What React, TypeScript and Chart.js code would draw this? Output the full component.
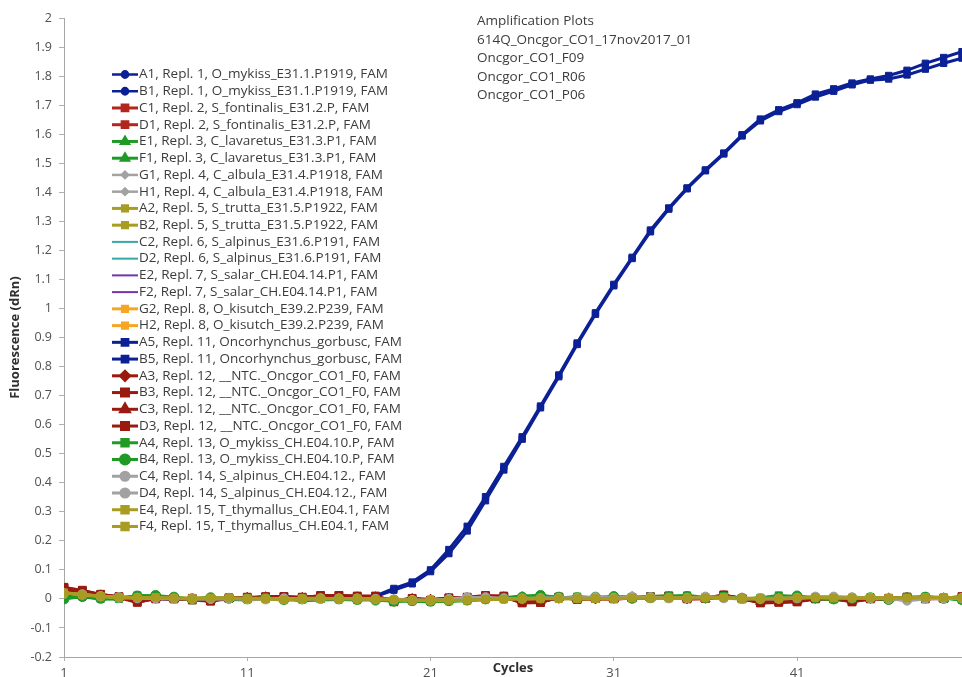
import React, { useEffect, useRef } from 'react';
import { Chart, registerables } from 'chart.js';
import { drawPoint } from 'chart.js/helpers';

Chart.register(...registerables);

// Cycle numbers on the x axis and the labelled ticks
const CYCLES = [
  1, 2, 3, 4, 5, 6, 7, 8, 9, 10, 11, 12, 13, 14, 15, 16, 17, 18, 19, 20, 21, 22, 23, 24, 25,
  26, 27, 28, 29, 30, 31, 32, 33, 34, 35, 36, 37, 38, 39, 40, 41, 42, 43, 44, 45, 46, 47, 48, 49, 50,
];
const X_TICKS = [1, 11, 21, 31, 41];
const Y_MIN = -0.2;
const Y_MAX = 2;
const Y_STEP = 0.1;

const HEADER_LINES = [
  'Amplification Plots',
  '614Q_Oncgor_CO1_17nov2017_01',
  'Oncgor_CO1_F09',
  'Oncgor_CO1_R06',
  'Oncgor_CO1_P06',
];

// dRn per cycle, one array per well
const WELL_A1 = [0.018, 0.014, 0.01, 0.006, 0.004, 0.003, 0.002, 0.001, 0.0, 0.0, 0.001, 0.0, -0.001, 0.0, 0.001, 0.002, 0.002, 0.001, 0.0, -0.002, -0.003, -0.002, 0.0, 0.001, 0.0, -0.001, 0.0, 0.002, 0.004, 0.003, 0.002, 0.004, 0.006, 0.005, 0.004, 0.003, 0.002, 0.001, 0.0, 0.0, 0.001, 0.002, 0.004, 0.006, 0.005, 0.004, 0.003, 0.003, 0.004, 0.005];
const WELL_B1 = [0.016, 0.012, 0.008, 0.005, 0.003, 0.002, 0.002, 0.0, 0.001, 0.0, 0.0, -0.001, 0.0, 0.001, 0.002, 0.001, 0.0, 0.0, -0.002, -0.003, -0.002, -0.001, 0.001, 0.0, 0.002, 0.0, 0.001, 0.003, 0.002, 0.004, 0.003, 0.005, 0.004, 0.004, 0.003, 0.004, 0.001, 0.002, 0.001, 0.0, 0.002, 0.003, 0.003, 0.005, 0.004, 0.003, 0.004, 0.002, 0.003, 0.004];
const WELL_C1 = [0.036, 0.026, 0.014, 0.004, -0.012, 0.002, -0.002, 0.003, -0.006, 0.0, 0.004, 0.007, 0.006, 0.003, 0.01, 0.01, 0.009, 0.008, -0.006, 0.002, -0.002, 0.002, 0.004, 0.01, 0.008, -0.012, -0.011, 0.004, 0.0, 0.0, 0.0, 0.003, 0.006, 0.008, 0.002, 0.0, 0.012, 0.002, -0.012, -0.01, -0.008, 0.002, 0.0, -0.008, 0.0, 0.0, 0.004, 0.002, 0.0, 0.006];
const WELL_D1 = [0.03, 0.024, 0.012, 0.006, -0.008, 0.004, 0.0, 0.0, -0.004, 0.002, 0.006, 0.005, 0.004, 0.006, 0.008, 0.01, 0.006, 0.004, -0.004, 0.0, -0.004, 0.0, 0.002, 0.008, 0.01, -0.01, -0.008, 0.006, 0.002, 0.0, 0.002, 0.001, 0.003, 0.004, 0.0, 0.002, 0.01, 0.0, -0.01, -0.012, -0.006, 0.0, 0.002, -0.006, 0.002, -0.002, 0.002, 0.004, 0.002, 0.004];
const WELL_E1 = [0.005, 0.008, 0.0, 0.002, 0.008, 0.006, 0.0, 0.002, 0.004, -0.002, -0.004, 0.0, 0.0, -0.006, -0.004, -0.002, 0.0, 0.002, 0.0, -0.006, -0.01, -0.008, -0.004, 0.0, 0.004, 0.01, 0.012, 0.004, 0.0, 0.002, 0.006, 0.01, 0.004, 0.008, 0.008, 0.002, 0.006, 0.002, 0.0, 0.008, 0.002, 0.0, -0.002, 0.0, 0.004, -0.004, 0.0, 0.006, 0.004, -0.004];
const WELL_F1 = [0.008, 0.006, 0.002, 0.0, 0.006, 0.008, 0.002, 0.0, 0.002, 0.0, -0.002, -0.002, 0.002, -0.004, -0.002, 0.0, 0.002, 0.0, -0.002, -0.004, -0.008, -0.006, -0.002, 0.002, 0.002, 0.008, 0.01, 0.006, 0.002, 0.0, 0.004, 0.008, 0.006, 0.006, 0.01, 0.004, 0.004, 0.0, 0.002, 0.006, 0.004, 0.002, 0.0, 0.002, 0.002, -0.002, 0.002, 0.004, 0.006, -0.002];
const WELL_G1 = [0.022, 0.016, 0.01, 0.006, 0.004, 0.004, 0.002, 0.0, 0.002, 0.0, -0.002, 0.0, 0.0, -0.002, 0.002, 0.004, 0.002, 0.0, -0.004, -0.006, -0.004, 0.0, 0.006, 0.002, 0.0, 0.002, 0.002, 0.004, 0.004, 0.006, 0.004, 0.008, 0.006, 0.004, 0.004, 0.008, 0.002, 0.0, -0.002, 0.0, 0.004, 0.006, 0.008, 0.004, 0.002, 0.0, -0.006, 0.002, 0.0, 0.004];
const WELL_H1 = [0.02, 0.014, 0.008, 0.004, 0.002, 0.002, 0.0, 0.002, 0.0, 0.002, 0.0, -0.002, 0.002, 0.0, 0.0, 0.002, 0.004, 0.002, -0.002, -0.004, -0.006, -0.002, 0.004, 0.004, 0.002, 0.0, 0.004, 0.002, 0.006, 0.004, 0.006, 0.006, 0.004, 0.006, 0.002, 0.006, 0.004, 0.002, 0.0, 0.002, 0.002, 0.008, 0.006, 0.006, 0.004, 0.002, -0.004, 0.0, 0.002, 0.002];
const WELL_A2 = [0.024, 0.016, 0.01, 0.008, 0.002, 0.004, 0.004, 0.0, 0.002, 0.002, 0.0, 0.004, -0.002, 0.002, 0.0, 0.0, 0.002, -0.002, -0.002, -0.004, -0.006, -0.004, -0.002, 0.0, 0.002, 0.0, 0.002, 0.0, 0.002, 0.002, 0.0, 0.004, 0.004, 0.002, 0.006, 0.004, 0.004, 0.002, 0.0, 0.004, 0.002, 0.004, 0.006, 0.004, 0.004, 0.002, 0.002, 0.004, 0.006, 0.002];
const WELL_B2 = [0.02, 0.018, 0.008, 0.006, 0.004, 0.002, 0.002, 0.002, 0.0, 0.004, 0.002, 0.0, 0.0, 0.0, 0.002, 0.002, 0.0, 0.0, -0.004, -0.002, -0.004, -0.006, -0.004, -0.002, 0.0, 0.002, 0.0, 0.002, 0.0, 0.004, 0.002, 0.002, 0.004, 0.004, 0.004, 0.002, 0.006, 0.0, 0.002, 0.002, 0.004, 0.002, 0.004, 0.006, 0.002, 0.004, 0.004, 0.002, 0.004, 0.004];
const WELL_C2 = [0.014, 0.01, 0.008, 0.004, 0.002, 0.002, 0.0, 0.0, 0.002, 0.0, 0.0, 0.002, 0.0, -0.002, 0.0, 0.002, 0.0, 0.0, -0.002, -0.004, -0.004, -0.002, 0.0, 0.002, 0.0, 0.002, 0.004, 0.002, 0.004, 0.002, 0.004, 0.004, 0.006, 0.004, 0.004, 0.002, 0.004, 0.002, 0.0, 0.002, 0.004, 0.004, 0.002, 0.004, 0.004, 0.002, 0.002, 0.004, 0.002, 0.002];
const WELL_D2 = [0.012, 0.012, 0.006, 0.004, 0.004, 0.0, 0.002, 0.0, 0.0, 0.002, 0.0, 0.0, 0.002, 0.0, 0.0, 0.0, 0.002, -0.002, -0.002, -0.002, -0.004, -0.004, -0.002, 0.0, 0.002, 0.002, 0.002, 0.004, 0.002, 0.004, 0.002, 0.006, 0.004, 0.002, 0.006, 0.004, 0.002, 0.0, 0.002, 0.002, 0.002, 0.004, 0.004, 0.002, 0.002, 0.004, 0.004, 0.002, 0.004, 0.004];
const WELL_E2 = [0.016, 0.012, 0.006, 0.006, 0.002, 0.002, 0.002, 0.0, 0.0, 0.0, 0.002, 0.0, 0.0, 0.0, 0.002, 0.0, 0.0, 0.0, -0.004, -0.002, -0.004, -0.002, -0.002, 0.0, 0.002, 0.002, 0.002, 0.002, 0.004, 0.004, 0.002, 0.004, 0.004, 0.004, 0.004, 0.004, 0.002, 0.002, 0.002, 0.0, 0.004, 0.004, 0.004, 0.004, 0.002, 0.002, 0.002, 0.004, 0.004, 0.004];
const WELL_F2 = [0.014, 0.01, 0.008, 0.004, 0.004, 0.002, 0.0, 0.002, 0.0, 0.0, 0.0, 0.002, 0.0, 0.0, 0.0, 0.002, 0.0, -0.002, -0.002, -0.004, -0.002, -0.004, 0.0, 0.0, 0.0, 0.002, 0.004, 0.002, 0.002, 0.004, 0.004, 0.002, 0.004, 0.006, 0.002, 0.004, 0.004, 0.002, 0.0, 0.002, 0.002, 0.004, 0.002, 0.004, 0.004, 0.002, 0.004, 0.002, 0.004, 0.002];
const WELL_G2 = [0.018, 0.014, 0.01, 0.004, 0.004, 0.002, 0.002, 0.002, 0.0, 0.002, 0.0, 0.0, 0.002, -0.002, 0.002, 0.0, 0.002, 0.0, -0.002, -0.004, -0.006, -0.004, -0.002, 0.002, 0.0, 0.002, 0.002, 0.0, 0.004, 0.002, 0.004, 0.006, 0.004, 0.002, 0.004, 0.006, 0.002, 0.002, 0.0, 0.002, 0.004, 0.002, 0.004, 0.006, 0.004, 0.002, 0.004, 0.002, 0.004, 0.006];
const WELL_H2 = [0.016, 0.014, 0.008, 0.006, 0.002, 0.004, 0.0, 0.002, 0.002, 0.0, 0.002, 0.0, 0.0, 0.0, 0.0, 0.002, 0.0, 0.002, -0.002, -0.002, -0.004, -0.006, -0.002, 0.0, 0.002, 0.0, 0.004, 0.002, 0.002, 0.004, 0.002, 0.004, 0.006, 0.004, 0.002, 0.004, 0.004, 0.0, 0.002, 0.0, 0.002, 0.004, 0.006, 0.004, 0.002, 0.004, 0.002, 0.004, 0.004, 0.004];
const WELL_A5 = [0.01, 0.008, 0.005, 0.003, 0.002, 0.001, 0.0, 0.0, -0.001, 0.0, 0.0, -0.002, -0.001, 0.0, 0.0, 0.002, 0.004, 0.01, 0.036, 0.058, 0.1, 0.17, 0.25, 0.352, 0.456, 0.558, 0.664, 0.771, 0.881, 0.985, 1.083, 1.176, 1.27, 1.346, 1.415, 1.477, 1.535, 1.598, 1.652, 1.684, 1.708, 1.738, 1.756, 1.776, 1.79, 1.802, 1.82, 1.844, 1.864, 1.884];
const WELL_B5 = [0.008, 0.006, 0.004, 0.002, 0.002, 0.0, 0.001, -0.001, 0.0, -0.001, 0.0, -0.001, 0.0, 0.001, 0.0, 0.001, 0.003, 0.008, 0.03, 0.052, 0.094, 0.156, 0.234, 0.338, 0.444, 0.55, 0.658, 0.765, 0.876, 0.98, 1.078, 1.172, 1.264, 1.342, 1.412, 1.474, 1.532, 1.594, 1.646, 1.678, 1.702, 1.728, 1.748, 1.77, 1.786, 1.79, 1.804, 1.824, 1.844, 1.862];
const WELL_A3 = [0.03, 0.022, 0.014, 0.006, 0.0, 0.002, 0.0, 0.002, -0.002, 0.002, 0.004, 0.006, 0.004, 0.002, 0.006, 0.008, 0.006, 0.004, -0.004, -0.002, -0.004, 0.0, 0.002, 0.006, 0.004, -0.006, -0.006, 0.002, 0.002, 0.0, 0.002, 0.004, 0.004, 0.006, 0.0, 0.002, 0.008, 0.0, -0.008, -0.006, -0.004, 0.002, 0.002, -0.004, 0.002, 0.0, 0.004, 0.002, 0.002, 0.004];
const WELL_B3 = [0.04, 0.028, 0.016, 0.006, -0.01, 0.0, 0.002, -0.004, -0.008, 0.004, 0.002, 0.008, 0.008, 0.004, 0.012, 0.012, 0.01, 0.008, -0.01, -0.002, -0.004, 0.004, 0.006, 0.012, 0.006, -0.014, -0.012, 0.006, -0.002, 0.002, 0.0, 0.004, 0.008, 0.01, 0.0, 0.002, 0.014, 0.0, -0.014, -0.012, -0.01, 0.0, 0.002, -0.01, 0.0, 0.002, 0.006, 0.0, 0.002, 0.008];
const WELL_C3 = [0.032, 0.024, 0.012, 0.004, -0.004, 0.002, 0.0, 0.0, -0.004, 0.0, 0.004, 0.006, 0.004, 0.004, 0.008, 0.008, 0.006, 0.006, -0.006, 0.0, -0.002, 0.0, 0.004, 0.008, 0.006, -0.008, -0.008, 0.004, 0.0, 0.002, 0.0, 0.002, 0.004, 0.006, 0.002, 0.0, 0.01, 0.002, -0.01, -0.008, -0.006, 0.0, 0.002, -0.006, 0.0, 0.002, 0.002, 0.004, 0.0, 0.004];
const WELL_D3 = [0.038, 0.03, 0.014, 0.008, -0.012, 0.004, 0.0, 0.002, -0.006, 0.002, 0.006, 0.006, 0.008, 0.006, 0.01, 0.012, 0.008, 0.01, -0.008, 0.002, -0.006, 0.002, 0.004, 0.01, 0.01, -0.012, -0.012, 0.006, 0.0, 0.002, 0.002, 0.004, 0.006, 0.01, 0.002, 0.002, 0.012, 0.002, -0.012, -0.01, -0.01, 0.002, 0.0, -0.01, 0.002, 0.0, 0.006, 0.004, 0.002, 0.006];
const WELL_A4 = [0.002, 0.01, 0.0, 0.0, 0.012, 0.01, 0.004, -0.002, 0.002, 0.0, -0.002, 0.0, -0.004, -0.002, 0.0, -0.002, -0.004, -0.002, -0.006, -0.008, -0.01, -0.008, -0.006, -0.002, 0.0, 0.004, 0.006, 0.002, 0.008, 0.004, 0.006, 0.004, 0.008, 0.01, 0.012, 0.006, 0.01, 0.0, 0.004, 0.012, 0.008, 0.002, 0.0, 0.004, 0.006, 0.0, 0.006, 0.008, 0.004, -0.004];
const WELL_B4 = [0.0, 0.008, 0.002, 0.004, 0.01, 0.012, 0.006, 0.0, 0.004, 0.002, 0.0, 0.002, -0.002, 0.0, 0.002, 0.0, -0.002, -0.004, -0.008, -0.006, -0.008, -0.006, -0.004, 0.0, 0.002, 0.006, 0.012, 0.006, 0.004, 0.006, 0.008, 0.002, 0.004, 0.006, 0.008, 0.004, 0.006, 0.002, 0.0, 0.006, 0.01, 0.004, 0.0, 0.002, 0.004, -0.002, 0.004, 0.006, 0.002, -0.002];
const WELL_C4 = [0.02, 0.014, 0.01, 0.004, 0.004, 0.002, 0.002, 0.0, 0.0, 0.002, 0.0, 0.0, 0.0, 0.0, 0.002, 0.0, 0.002, 0.0, -0.002, -0.004, -0.004, -0.002, 0.004, 0.006, 0.0, 0.002, 0.002, 0.002, 0.004, 0.004, 0.004, 0.008, 0.004, 0.004, 0.002, 0.008, 0.004, 0.002, 0.0, 0.0, 0.002, 0.006, 0.008, 0.006, 0.004, 0.0, -0.004, 0.002, 0.002, 0.002];
const WELL_D4 = [0.018, 0.016, 0.008, 0.006, 0.002, 0.002, 0.0, 0.002, 0.0, 0.0, 0.0, -0.002, 0.002, 0.0, 0.0, 0.002, 0.0, 0.0, -0.002, -0.004, -0.006, 0.0, 0.006, 0.004, 0.002, 0.0, 0.002, 0.004, 0.002, 0.006, 0.002, 0.006, 0.006, 0.002, 0.004, 0.006, 0.002, 0.0, 0.002, 0.002, 0.004, 0.008, 0.006, 0.004, 0.002, 0.002, -0.006, 0.0, 0.002, 0.004];
const WELL_E4 = [0.02, 0.015, 0.01, 0.006, 0.004, 0.006, 0.002, 0.002, 0.004, 0.004, 0.002, 0.002, -0.004, 0.0, 0.0, 0.002, 0.0, -0.002, -0.004, -0.004, -0.006, -0.006, -0.004, -0.002, 0.0, 0.0, 0.0, 0.002, 0.0, 0.0, 0.002, 0.002, 0.002, 0.004, 0.004, 0.002, 0.006, 0.0, 0.0, 0.002, 0.004, 0.004, 0.004, 0.002, 0.002, 0.004, 0.004, 0.006, 0.004, 0.004];
const WELL_F4 = [0.022, 0.014, 0.008, 0.004, 0.004, 0.004, 0.002, 0.0, 0.002, 0.002, 0.0, 0.0, -0.002, 0.002, 0.002, 0.0, 0.002, 0.0, -0.002, -0.006, -0.004, -0.004, -0.006, 0.0, -0.002, 0.002, 0.002, 0.0, 0.002, 0.002, 0.0, 0.004, 0.002, 0.002, 0.002, 0.004, 0.004, 0.002, 0.002, 0.0, 0.002, 0.006, 0.002, 0.004, 0.004, 0.002, 0.002, 0.004, 0.006, 0.002];

const BLUE = '#0c2096';
const RED = '#b3251d';
const DARK_RED = '#9a1a10';
const GREEN = '#1f9a25';
const GRAY = '#a2a2a2';
const OLIVE = '#a89c22';
const TEAL = '#35a7a6';
const PURPLE = '#7435aa';
const ORANGE = '#f6a623';

type Well = {
  label: string;
  data: number[];
  color: string;
  point: string | false;
  radius: number;
  width: number;
};

const WELLS: Well[] = [
  { label: 'A1, Repl. 1, O_mykiss_E31.1.P1919, FAM', data: WELL_A1, color: BLUE, point: 'circle', radius: 3.5, width: 2.5 },
  { label: 'B1, Repl. 1, O_mykiss_E31.1.P1919, FAM', data: WELL_B1, color: BLUE, point: 'circle', radius: 3.5, width: 2.5 },
  { label: 'C1, Repl. 2, S_fontinalis_E31.2.P, FAM', data: WELL_C1, color: RED, point: 'rect', radius: 4.5, width: 3 },
  { label: 'D1, Repl. 2, S_fontinalis_E31.2.P, FAM', data: WELL_D1, color: RED, point: 'rect', radius: 4.5, width: 3 },
  { label: 'E1, Repl. 3, C_lavaretus_E31.3.P1, FAM', data: WELL_E1, color: GREEN, point: 'triangle', radius: 4.5, width: 3 },
  { label: 'F1, Repl. 3, C_lavaretus_E31.3.P1, FAM', data: WELL_F1, color: GREEN, point: 'triangle', radius: 4.5, width: 3 },
  { label: 'G1, Repl. 4, C_albula_E31.4.P1918, FAM', data: WELL_G1, color: GRAY, point: 'rectRot', radius: 3.5, width: 2.5 },
  { label: 'H1, Repl. 4, C_albula_E31.4.P1918, FAM', data: WELL_H1, color: GRAY, point: 'rectRot', radius: 3.5, width: 2.5 },
  { label: 'A2, Repl. 5, S_trutta_E31.5.P1922, FAM', data: WELL_A2, color: OLIVE, point: 'rect', radius: 4, width: 3 },
  { label: 'B2, Repl. 5, S_trutta_E31.5.P1922, FAM', data: WELL_B2, color: OLIVE, point: 'rect', radius: 4, width: 3 },
  { label: 'C2, Repl. 6, S_alpinus_E31.6.P191, FAM', data: WELL_C2, color: TEAL, point: false, radius: 0, width: 2 },
  { label: 'D2, Repl. 6, S_alpinus_E31.6.P191, FAM', data: WELL_D2, color: TEAL, point: false, radius: 0, width: 2 },
  { label: 'E2, Repl. 7, S_salar_CH.E04.14.P1, FAM', data: WELL_E2, color: PURPLE, point: false, radius: 0, width: 2 },
  { label: 'F2, Repl. 7, S_salar_CH.E04.14.P1, FAM', data: WELL_F2, color: PURPLE, point: false, radius: 0, width: 2 },
  { label: 'G2, Repl. 8, O_kisutch_E39.2.P239, FAM', data: WELL_G2, color: ORANGE, point: 'rect', radius: 4, width: 3 },
  { label: 'H2, Repl. 8, O_kisutch_E39.2.P239, FAM', data: WELL_H2, color: ORANGE, point: 'rect', radius: 4, width: 3 },
  { label: 'A5, Repl. 11, Oncorhynchus_gorbusc, FAM', data: WELL_A5, color: BLUE, point: 'rect', radius: 4.5, width: 3 },
  { label: 'B5, Repl. 11, Oncorhynchus_gorbusc, FAM', data: WELL_B5, color: BLUE, point: 'rect', radius: 4.5, width: 3 },
  { label: 'A3, Repl. 12, __NTC._Oncgor_CO1_F0, FAM', data: WELL_A3, color: DARK_RED, point: 'rectRot', radius: 5, width: 3 },
  { label: 'B3, Repl. 12, __NTC._Oncgor_CO1_F0, FAM', data: WELL_B3, color: DARK_RED, point: 'rect', radius: 5.5, width: 3 },
  { label: 'C3, Repl. 12, __NTC._Oncgor_CO1_F0, FAM', data: WELL_C3, color: DARK_RED, point: 'triangle', radius: 5.5, width: 3 },
  { label: 'D3, Repl. 12, __NTC._Oncgor_CO1_F0, FAM', data: WELL_D3, color: DARK_RED, point: 'rect', radius: 5.5, width: 3 },
  { label: 'A4, Repl. 13, O_mykiss_CH.E04.10.P, FAM', data: WELL_A4, color: GREEN, point: 'rect', radius: 5, width: 3 },
  { label: 'B4, Repl. 13, O_mykiss_CH.E04.10.P, FAM', data: WELL_B4, color: GREEN, point: 'circle', radius: 5, width: 3 },
  { label: 'C4, Repl. 14, S_alpinus_CH.E04.12., FAM', data: WELL_C4, color: GRAY, point: 'circle', radius: 4.5, width: 3 },
  { label: 'D4, Repl. 14, S_alpinus_CH.E04.12., FAM', data: WELL_D4, color: GRAY, point: 'circle', radius: 4.5, width: 3 },
  { label: 'E4, Repl. 15, T_thymallus_CH.E04.1, FAM', data: WELL_E4, color: OLIVE, point: 'rect', radius: 5, width: 3 },
  { label: 'F4, Repl. 15, T_thymallus_CH.E04.1, FAM', data: WELL_F4, color: OLIVE, point: 'rect', radius: 5, width: 3 },
];

const FONT = '"Open Sans", "Noto Sans", sans-serif';
const TEXT_COLOR = '#3c3c3c';

const LEGEND_X = 112;
const LEGEND_TOP = 74.5;
const LEGEND_ROW = 16.74;
const HEADER_X = 477;
const HEADER_TOP = 21.5;
const HEADER_ROW = 18.5;

// Legend list, run header and the x-axis caption
const overlayPlugin = {
  id: 'overlayText',
  afterDraw(chart: any) {
    const ctx: CanvasRenderingContext2D = chart.ctx;
    ctx.save();
    ctx.textBaseline = 'middle';
    ctx.textAlign = 'left';
    ctx.font = `13.5px ${FONT}`;
    WELLS.forEach((w, i) => {
      const y = LEGEND_TOP + i * LEGEND_ROW;
      ctx.strokeStyle = w.color;
      ctx.lineWidth = w.width;
      ctx.beginPath();
      ctx.moveTo(LEGEND_X, y);
      ctx.lineTo(LEGEND_X + 26, y);
      ctx.stroke();
      if (w.point) {
        ctx.fillStyle = w.color;
        ctx.strokeStyle = w.color;
        drawPoint(ctx, { pointStyle: w.point as any, rotation: 0, radius: w.radius * 0.9, borderWidth: 1 }, LEGEND_X + 13, y);
      }
      ctx.fillStyle = TEXT_COLOR;
      ctx.fillText(w.label, LEGEND_X + 27, y);
    });

    HEADER_LINES.forEach((line, i) => {
      ctx.fillText(line, HEADER_X, HEADER_TOP + i * HEADER_ROW);
    });

    ctx.font = `bold 13px ${FONT}`;
    ctx.textAlign = 'center';
    ctx.fillStyle = '#2e2e2e';
    ctx.fillText('Cycles', 513, 668);
    ctx.restore();
  },
};

export default function App() {
  const canvasRef = useRef<HTMLCanvasElement | null>(null);

  useEffect(() => {
    const canvas = canvasRef.current;
    if (!canvas) return;
    const chart = new Chart(canvas, {
      type: 'line',
      data: {
        datasets: WELLS.map((w, i) => ({
          label: w.label,
          data: CYCLES.map((c, k) => ({ x: c, y: w.data[k] })),
          borderColor: w.color,
          backgroundColor: w.color,
          borderWidth: w.width,
          pointStyle: w.point === false ? false : (w.point as any),
          pointRadius: w.radius,
          pointBorderWidth: 1,
          pointBorderColor: w.color,
          pointBackgroundColor: w.color,
          tension: 0,
          fill: false,
          order: WELLS.length - i,
        })),
      },
      options: {
        animation: false,
        responsive: false,
        maintainAspectRatio: false,
        events: [],
        layout: { autoPadding: false, padding: { top: 18, left: 0, right: 0, bottom: 0 } },
        plugins: {
          legend: { display: false },
          tooltip: { enabled: false },
        },
        scales: {
          x: {
            type: 'linear',
            min: 1,
            max: 50,
            afterBuildTicks: (scale: any) => {
              scale.ticks = X_TICKS.map((v) => ({ value: v }));
            },
            afterFit: (scale: any) => {
              scale.height = 20;
              scale.paddingLeft = 0;
              scale.paddingRight = 0;
            },
            ticks: {
              autoSkip: false,
              maxRotation: 0,
              padding: 4,
              color: '#505050',
              font: { family: FONT, size: 13 },
              callback: (v: any) => String(v),
            },
            grid: { drawOnChartArea: false, drawTicks: true, tickLength: 4, color: '#b0b0b0' },
            border: { color: '#a6a6a6', width: 1 },
          },
          y: {
            type: 'linear',
            min: Y_MIN,
            max: Y_MAX,
            afterFit: (scale: any) => {
              scale.width = 64;
            },
            ticks: {
              stepSize: Y_STEP,
              autoSkip: false,
              padding: 7,
              color: '#505050',
              font: { family: FONT, size: 12.5 },
              callback: (v: any) => String(Math.round(Number(v) * 10) / 10),
            },
            grid: { drawOnChartArea: false, drawTicks: true, tickLength: 5, color: '#b0b0b0' },
            border: { color: '#a6a6a6', width: 1 },
            title: {
              display: true,
              text: 'Fluorescence (dRn)',
              color: '#2e2e2e',
              font: { family: FONT, size: 13, weight: 'bold' },
              padding: { top: 7, bottom: 0 },
            },
          },
        },
      },
      plugins: [overlayPlugin],
    });
    return () => chart.destroy();
  }, []);

  return (
    <div style={{ position: 'fixed', left: 0, top: 0, width: 962, height: 677, background: '#ffffff' }}>
      <canvas ref={canvasRef} width={962} height={677} style={{ width: 962, height: 677, display: 'block' }} />
    </div>
  );
}
